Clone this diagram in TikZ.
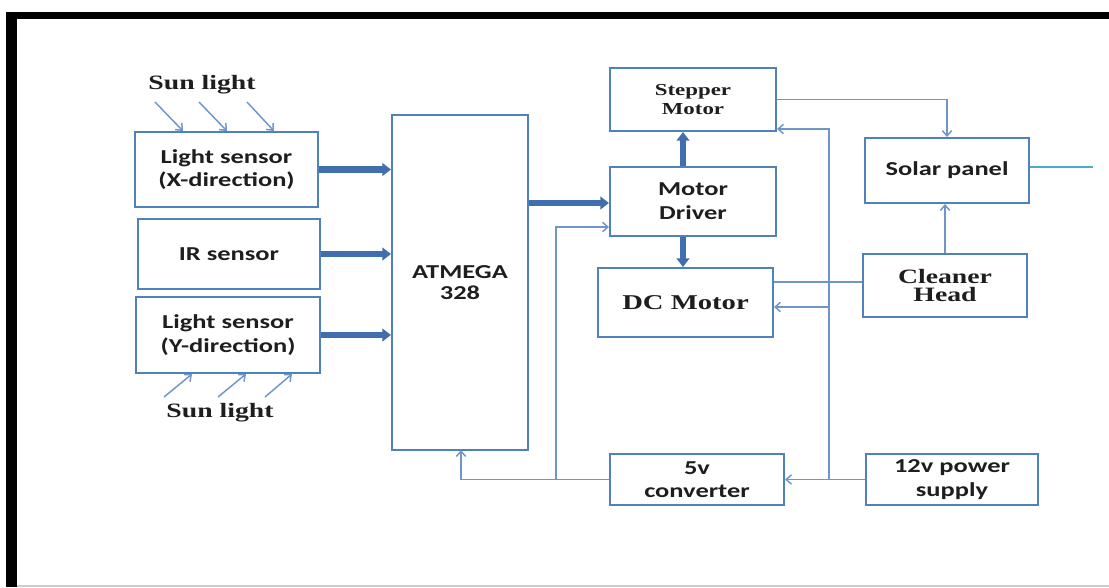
\documentclass[tikz,border=0pt]{standalone}
\usepackage{fontspec}
\setmainfont{Liberation Serif}[FakeStretch=1.36]
\newfontfamily\sansf{Carlito}[FakeStretch=1.34]
\usetikzlibrary{arrows.meta,calc}
\definecolor{boxblue}{RGB}{79,129,189}
\definecolor{linblue}{RGB}{110,150,200}
\definecolor{thkblue}{RGB}{65,110,172}
\definecolor{cyanl}{RGB}{75,172,198}
\definecolor{txt}{RGB}{30,30,30}
\begin{document}
\begin{tikzpicture}[x=0.75pt,y=-0.75pt,
  box/.style={draw=boxblue, line width=1.5pt, fill=white, align=center, inner sep=0pt, text=txt},
  sz/.style 2 args={minimum width=#1*0.75pt, minimum height=#2*0.75pt},
  sansbox/.style={box, font=\sansf\bfseries\fontsize{14.8}{17.5}\selectfont},
  serifbox/.style={box, font=\bfseries\fontsize{15.3}{13.8}\selectfont},
  sunlbl/.style={inner sep=0pt, text=txt, font=\bfseries\fontsize{15.3}{18}\selectfont},
  thk/.style={draw=thkblue, line width=4.8pt, -{Triangle[length=6.5pt,width=9.5pt]}},
  thn/.style={draw=linblue, line width=1.1pt},
  thnarr/.style={thn, -{Straight Barb[length=4pt,width=7pt]}},
]
\useasboundingbox (0,0) rectangle (1109,587);
% frame
\fill[black] (6,12) rectangle (1109,19);
\fill[black] (6,12) rectangle (17,587);
\draw[black!20, line width=1.5pt] (17,586) -- (1109,586);

% boxes
\node[sansbox, sz={183}{75}] (lsx) at (226.5,169.5) {Light sensor\\(X-direction)};
\node[sansbox, sz={182}{70}] (ir) at (229,254) {IR sensor};
\node[sansbox, sz={184}{76}] (lsy) at (228,335) {Light sensor\\(Y-direction)};
\node[sansbox, sz={136}{335}, font=\sansf\bfseries\fontsize{14.8}{16}\selectfont] (atm) at (460,282.5) {ATMEGA\\328};
\node[serifbox, sz={166}{63}, font=\bfseries\fontsize{12.6}{14}\selectfont] (step) at (693,99.5) {Stepper\\Motor};
\node[sansbox, sz={166}{69}, font=\sansf\bfseries\fontsize{14.8}{18}\selectfont] (drv) at (693,201.5) {Motor\\Driver};
\node[serifbox, sz={175}{69}, font=\bfseries\fontsize{15.8}{14}\selectfont] (dc) at (685.5,302.5) {DC Motor};
\node[sansbox, sz={164}{65}] (solar) at (947,170.5) {Solar panel};
\node[serifbox, sz={164}{63}] (clean) at (945,285.5) {Cleaner\\Head};
\node[sansbox, sz={174}{51}] (conv) at (697,479.5) {5v\\converter};
\node[sansbox, sz={172}{51}] (psu) at (952,479.5) {12v power\\supply};

% sun light labels
\node[sunlbl] (sun1) at (202,85) {Sun light};
\node[sunlbl] (sun2) at (220,413) {Sun light};

% sun light arrows
\coordinate (a1) at (155,102); \coordinate (b1) at (183,132);
\coordinate (a2) at (199,102); \coordinate (b2) at (227,132);
\coordinate (a3) at (247,102); \coordinate (b3) at (274,132);
\draw[thnarr] (a1) -- (b1 |- lsx.north);
\draw[thnarr] (a2) -- (b2 |- lsx.north);
\draw[thnarr] (a3) -- (b3 |- lsx.north);
\coordinate (c1) at (164,397); \coordinate (d1) at (192,373);
\coordinate (c2) at (218,397); \coordinate (d2) at (246,373);
\coordinate (c3) at (265,397); \coordinate (d3) at (292,373);
\draw[thnarr] (c1) -- (d1 |- lsy.south);
\draw[thnarr] (c2) -- (d2 |- lsy.south);
\draw[thnarr] (c3) -- (d3 |- lsy.south);

% thick arrows
\draw[thk] (lsx.east) -- (lsx.east -| atm.west);
\draw[thk] (ir.east) -- (ir.east -| atm.west);
\draw[thk] (lsy.east) -- (lsy.east -| atm.west);
\coordinate (y203) at (0,203);
\draw[thk] (y203 -| atm.east) -- (y203 -| drv.west);
\coordinate (x683) at (683,0);
\draw[thk] (x683 |- drv.north) -- (x683 |- step.south);
\draw[thk] (x683 |- drv.south) -- (x683 |- dc.north);

% thin connectors
\draw[thnarr] (step.east) -| (solar.north);
\draw[thnarr] (clean.north) -- (clean.north |- solar.south);
\coordinate (cyend) at (1093,167);
\draw[draw=cyanl, line width=1.1pt] (cyend -| solar.east) -- (cyend);
\coordinate (j4) at (863,282);
\draw[thn] (j4 -| clean.west) -- (j4 -| dc.east);
\coordinate (j1) at (829,480);
\coordinate (j2) at (829,129);
\coordinate (j3) at (829,307);
\draw[thnarr] (j1) -- (j2) -- (j2 -| step.east);
\draw[thnarr] (j3) -- (j3 -| dc.east);
\draw[thnarr] (psu.west) -- (conv.east);
\coordinate (j5) at (461,450);
\draw[thnarr] (conv.west) -| (j5);
\coordinate (j6) at (556,480);
\coordinate (j7) at (556,227);
\draw[thnarr] (j6) -- (j7) -- (j7 -| drv.west);
\end{tikzpicture}
\end{document}
